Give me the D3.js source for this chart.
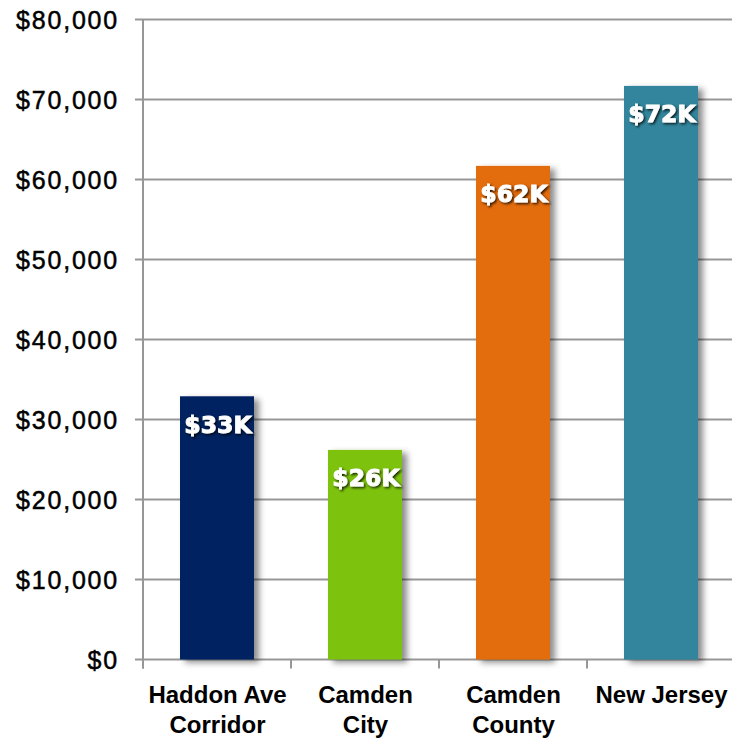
<!DOCTYPE html>
<html><head><meta charset="utf-8">
<script src="https://cdn.jsdelivr.net/npm/d3@7"></script>
<style>html,body{margin:0;padding:0;background:#fff;overflow:hidden}</style>
</head><body>
<svg id="chart" width="732" height="740"></svg>
<script>
const categories = [["Haddon Ave","Corridor"],["Camden","City"],["Camden","County"],["New Jersey"]];
const values = [32900, 26200, 61700, 71700];
const valueLabels = ["$33K","$26K","$62K","$72K"];
const colors = ["#002060","#7DC30F","#E36C09","#31859C"];
const yTicks = [0,10000,20000,30000,40000,50000,60000,70000,80000];

(function(){
const svg = d3.select("#chart");
const pLeft = 143, pRight = 735, pTop = 19.5, pBottom = 659.5;
const keys = categories.map((c,i)=>i);
const x = d3.scaleBand().domain(keys).range([pLeft,pRight]).paddingInner(0.5).paddingOuter(0.25);
const y = d3.scaleLinear().domain([0,80000]).range([pBottom,pTop]);
const step = x.step(), gap = (step - x.bandwidth())/2;

const defs = svg.append("defs");
const f = defs.append("filter").attr("id","bshadow").attr("x","-20%").attr("y","-10%").attr("width","150%").attr("height","130%");
f.append("feDropShadow").attr("dx",5).attr("dy",3).attr("stdDeviation",3).attr("flood-color","#000").attr("flood-opacity",0.45);
const t = defs.append("filter").attr("id","tshadow").attr("x","-20%").attr("y","-30%").attr("width","150%").attr("height","170%");
t.append("feDropShadow").attr("dx",1.5).attr("dy",1.5).attr("stdDeviation",0.8).attr("flood-color","#000").attr("flood-opacity",0.8);

// gridlines
svg.append("g").selectAll("line").data(yTicks).join("line")
  .attr("x1",135).attr("x2",732).attr("y1",d=>y(d)).attr("y2",d=>y(d))
  .attr("stroke","#979797").attr("stroke-width",2);

// y labels
svg.append("g").selectAll("text").data(yTicks).join("text")
  .attr("x",119).attr("y",d=>y(d)+9)
  .attr("text-anchor","end")
  .style("font-family","'Liberation Sans', Arial, sans-serif")
  .style("font-size","25px").style("letter-spacing","1.8px").attr("fill","#000")
  .attr("stroke","#000").attr("stroke-width",0.5)
  .text(d=>"$"+d3.format(",")(d));

// bars
svg.append("g").selectAll("rect").data(values).join("rect")
  .attr("x",(d,i)=>x(i)).attr("width",x.bandwidth())
  .attr("y",d=>y(d)).attr("height",d=>y(0)-y(d))
  .attr("fill",(d,i)=>colors[i]).attr("filter","url(#bshadow)");

// y axis line
svg.append("line").attr("x1",pLeft).attr("x2",pLeft).attr("y1",pTop-0.5).attr("y2",pBottom+9)
  .attr("stroke","#979797").attr("stroke-width",2);
// x axis ticks
const tickX = keys.map(i=>x(i)-gap).concat([pRight]);
svg.append("g").selectAll("line").data(tickX).join("line")
  .attr("x1",d=>d).attr("x2",d=>d).attr("y1",pBottom).attr("y2",pBottom+9)
  .attr("stroke","#979797").attr("stroke-width",2);

// value labels
svg.append("g").selectAll("text").data(values).join("text")
  .attr("x",(d,i)=>x(i)+x.bandwidth()/2+1).attr("y",d=>y(d)+36.5)
  .attr("text-anchor","middle")
  .style("font-family","'DejaVu Sans', sans-serif").style("font-weight","bold")
  .style("font-size","23.5px").attr("fill","#fff")
  .attr("stroke","#fff").attr("stroke-width",0.9)
  .attr("filter","url(#tshadow)")
  .text((d,i)=>valueLabels[i]);

// category labels
const cg = svg.append("g").selectAll("text").data(categories).join("text")
  .attr("x",(d,i)=>x(i)+x.bandwidth()/2+0.5).attr("y",703)
  .attr("text-anchor","middle")
  .style("font-family","'Liberation Sans', Arial, sans-serif").style("font-weight","bold")
  .style("font-size","24px").attr("fill","#000");
cg.each(function(d,i){
  const el = d3.select(this);
  d.forEach((line,j)=>{
    el.append("tspan").attr("x",x(i)+x.bandwidth()/2+0.5).attr("dy",j===0?0:30).text(line);
  });
});
})();
</script>
</body></html>
